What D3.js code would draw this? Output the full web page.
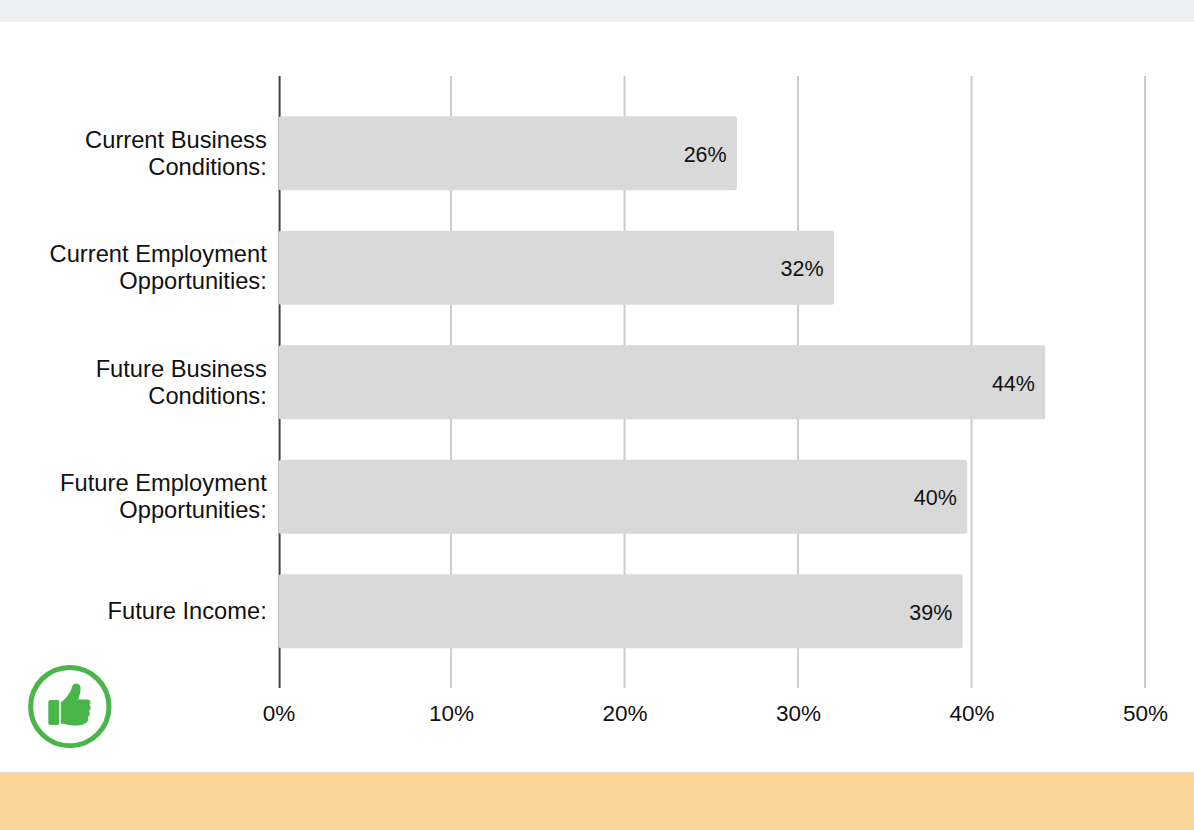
<!DOCTYPE html>
<html>
<head>
<meta charset="utf-8">
<script src="https://cdnjs.cloudflare.com/ajax/libs/d3/7.8.5/d3.min.js"></script>
<style>
html,body{margin:0;padding:0;background:#fff}
svg{display:block}
text{font-family:"Liberation Sans",Arial,sans-serif;fill:#111}
</style>
</head>
<body>
<svg id="chart" width="1194" height="830"></svg>
<script>
// Share of respondents per index component
const categories = [
  ["Current Business", "Conditions:"],
  ["Current Employment", "Opportunities:"],
  ["Future Business", "Conditions:"],
  ["Future Employment", "Opportunities:"],
  ["Future Income:"]
];
const shares = [26.48, 32.07, 44.25, 39.75, 39.49];
const axisTicks = [0, 10, 20, 30, 40, 50];

const svg = d3.select("#chart");

// Page bands above and below the plot
svg.append("rect").attr("width", 1194).attr("height", 22).attr("fill", "#eeeff1");
svg.append("rect").attr("y", 772).attr("width", 1194).attr("height", 58).attr("fill", "#fdd596");
svg.append("rect").attr("y", 772).attr("width", 1194).attr("height", 1.4).attr("fill", "#dcdad6");

const x = d3.scaleLinear().domain([0, 50]).range([277.6, 1145]);
const y = d3.scaleBand()
  .domain(d3.range(categories.length))
  .range([116.3, 648.3])
  .paddingInner(0.354)
  .paddingOuter(0);

const baselineX = x(0) + 2;

// Vertical gridlines, with the zero baseline drawn darker
svg.append("g").selectAll("line").data(axisTicks).join("line")
  .attr("x1", d => d === 0 ? baselineX : x(d))
  .attr("x2", d => d === 0 ? baselineX : x(d))
  .attr("y1", 76).attr("y2", 688)
  .attr("stroke", d => d === 0 ? "#444" : "#ccc")
  .attr("stroke-width", 2);

// Tick labels under the plot
const xAxis = d3.axisBottom(x).tickValues(axisTicks).tickFormat(d => d + "%").tickSize(0).tickPadding(0);
const axisG = svg.append("g").attr("transform", "translate(0,704.9)").call(xAxis);
axisG.select(".domain").remove();
axisG.selectAll("text")
  .attr("font-size", 22.5)
  .attr("dx", d => d === 0 ? 0.8 : 0)
  .attr("dy", "0.71em")
  .style("font-family", '"Liberation Sans",Arial,sans-serif')
  .style("fill", "#111");

// Bars
svg.append("g").selectAll("rect").data(shares).join("rect")
  .attr("x", baselineX - 1)
  .attr("y", (d, i) => y(i))
  .attr("width", d => x(d) - baselineX + 1)
  .attr("height", y.bandwidth())
  .attr("rx", 2.5)
  .attr("fill", "#d9d9d9");

// Value labels inside the bar ends
svg.append("g").selectAll("text").data(shares).join("text")
  .attr("x", d => x(d) - 10.3)
  .attr("y", (d, i) => y(i) + y.bandwidth() / 2 + 1)
  .attr("dy", "0.35em")
  .attr("text-anchor", "end")
  .attr("font-size", 21.5)
  .text(d => d3.format(".0f")(d) + "%");

// Category labels, one or two lines, right aligned against the baseline
const labels = svg.append("g").selectAll("text").data(categories).join("text")
  .attr("text-anchor", "end")
  .attr("font-size", 23.7);
labels.each(function (lines, i) {
  const mid = y(i) + y.bandwidth() / 2;
  const lineGap = 27;
  const top = mid - (lines.length - 1) * lineGap / 2;
  d3.select(this).selectAll("tspan").data(lines).join("tspan")
    .attr("x", 266.8)
    .attr("y", (d, k) => top + k * lineGap - 0.2)
    .attr("dy", "0.35em")
    .text(d => d);
});

// Thumbs-up badge
const badge = svg.append("g").attr("transform", "translate(69.8,706.6)");
badge.append("circle").attr("r", 39.2).attr("fill", "#fff").attr("stroke", "#4ab54b").attr("stroke-width", 5);
badge.append("rect").attr("x", -21.5).attr("y", -6.6).attr("width", 11).attr("height", 25).attr("rx", 2).attr("fill", "#4ab54b");
badge.append("path").attr("fill", "#4ab54b")
  .attr("d", "M-9 -4 C-3 -9 0 -13 2 -19 C3 -24 8.5 -24.5 10.5 -20.5 C11.5 -16 9.5 -11 8.5 -7.2 L18 -7.2 C21 -7.2 21.5 -3 19.5 -1.8 C21.5 -0.5 21.5 3.5 19 4.4 C20.5 5.5 20.5 9.5 18 10.4 C19 12.5 18 16.5 15 17 C12 19.5 2 19.5 -3 18 C-5 17.5 -7 17 -9 17 Z");
</script>
</body>
</html>
